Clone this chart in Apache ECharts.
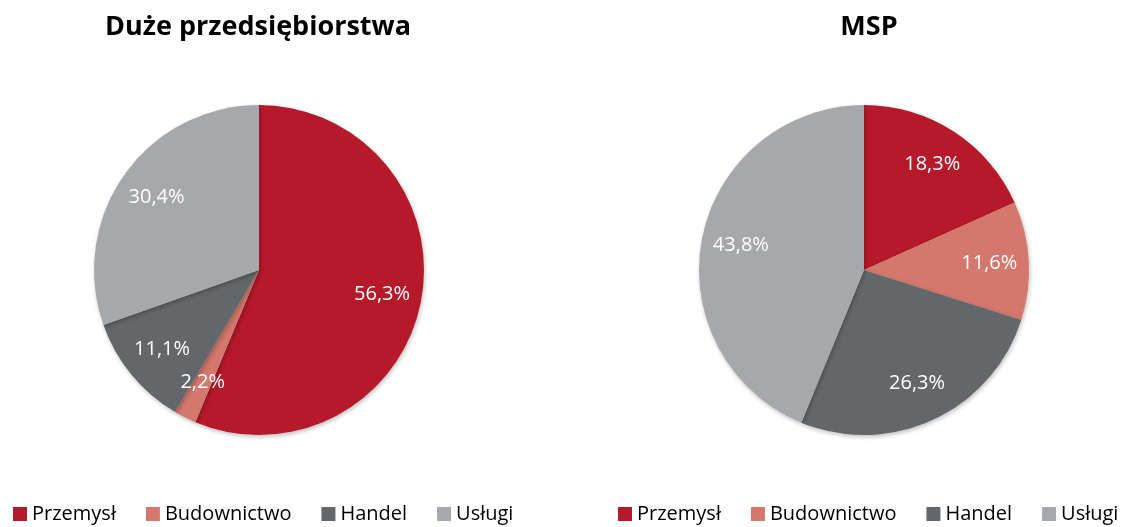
<!DOCTYPE html>
<html>
<head>
<meta charset="utf-8">
<script src="https://cdn.jsdelivr.net/npm/echarts@6/dist/echarts.min.js"></script>
<style>
  html, body { margin: 0; padding: 0; background: #fff; }
  #chart { width: 1124px; height: 527px; }
</style>
</head>
<body>
<div id="chart"></div>
<script>
// dane
const categories = ['Przemysł', 'Budownictwo', 'Handel', 'Usługi']
const colors = ['#B5192A', '#D4776C', '#63676A', '#A6A8AB']
const duze = [56.3, 2.2, 11.1, 30.4]
const msp = [18.3, 11.6, 26.3, 43.8]

const font = '"Open Sans", "Liberation Sans", sans-serif'

const toData = (vals) => vals.map((v, i) => ({ name: categories[i], value: v }))

// pie bez etykiet + przezroczysta warstwa z etykietami na ~3/4 promienia
const pieSeries = (vals, center) => [
  {
    type: 'pie',
    center: center,
    radius: [0, 165],
    startAngle: 90,
    clockwise: true,
    animation: false,
    silent: true,
    label: { show: false },
    labelLine: { show: false },
    itemStyle: {
      borderWidth: 0,
      shadowColor: 'rgba(0,0,0,0.25)',
      shadowBlur: 4,
      shadowOffsetX: 1,
      shadowOffsetY: 2
    },
    data: toData(vals)
  },
  {
    type: 'pie',
    center: center,
    radius: [80, 165],
    startAngle: 90,
    clockwise: true,
    animation: false,
    silent: true,
    itemStyle: { color: 'rgba(0,0,0,0)', borderWidth: 0 },
    label: {
      show: true,
      position: 'inside',
      color: '#fff',
      fontFamily: font,
      fontSize: 20,
      formatter: (p) => p.value.toFixed(1).replace('.', ',') + '%'
    },
    labelLine: { show: false },
    data: toData(vals)
  }
]

const legendBase = {
  data: categories,
  top: 499,
  icon: 'rect',
  itemWidth: 14,
  itemHeight: 14,
  itemGap: 30,
  selectedMode: false,
  textStyle: { fontFamily: font, fontSize: 20, color: '#000' }
}

const chart = echarts.init(document.getElementById('chart'))
chart.setOption({
  color: colors,
  title: [
    {
      text: 'Duże przedsiębiorstwa',
      left: 253, top: 9, textAlign: 'center',
      textStyle: { fontFamily: font, fontSize: 27, fontWeight: 'bold', color: '#000' }
    },
    {
      text: 'MSP',
      left: 864, top: 9, textAlign: 'center',
      textStyle: { fontFamily: font, fontSize: 27, fontWeight: 'bold', color: '#000' }
    }
  ],
  legend: [
    Object.assign({}, legendBase, { left: 8 }),
    Object.assign({}, legendBase, { left: 613 })
  ],
  series: [
    ...pieSeries(duze, [259, 270]),
    ...pieSeries(msp, [864, 270])
  ]
})
</script>
</body>
</html>
